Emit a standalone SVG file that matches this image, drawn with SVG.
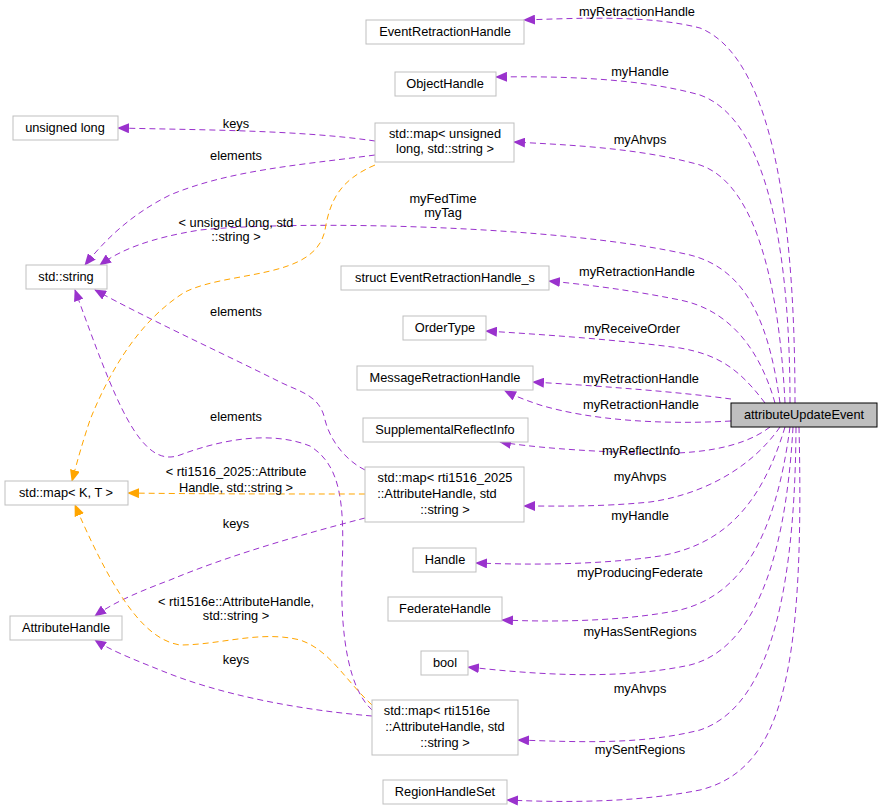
<svg xmlns="http://www.w3.org/2000/svg" width="883" height="812" viewBox="0 0 883 812">
<style>
.n rect{fill:#fff;stroke:#bfbfbf;stroke-width:1}
text{font-family:"Liberation Sans",Arial,sans-serif;font-size:12.8px;fill:#000;text-anchor:middle}
.p{fill:none;stroke:#9a32cd;stroke-dasharray:6,4}
.o{fill:none;stroke:#ffa500;stroke-dasharray:6,4}
</style>
<defs>
<marker id="mp" markerWidth="12" markerHeight="10" refX="11" refY="5" orient="auto" markerUnits="userSpaceOnUse"><path d="M0,0L12,5L0,10z" fill="#9a32cd"/></marker>
<marker id="mo" markerWidth="12" markerHeight="10" refX="11" refY="5" orient="auto" markerUnits="userSpaceOnUse"><path d="M0,0L12,5L0,10z" fill="#ffa500"/></marker>
</defs>
<rect width="883" height="812" fill="#fff"/>
<g id="edges">
<path class="p" marker-end="url(#mp)" d="M795,403C795,250 780,60 700,28C650,15 580,18 524,20"/>
<path class="p" marker-end="url(#mp)" d="M790,403C790,260 770,120 700,95C640,78 560,76 496,77"/>
<path class="p" marker-end="url(#mp)" d="M785,403C780,300 760,185 700,165C640,148 570,145 514,142"/>
<path class="p" marker-end="url(#mp)" d="M780,403C770,330 750,270 690,255C560,225 300,220 200,230C150,238 120,250 100,265"/>
<path class="p" marker-end="url(#mp)" d="M775,403C760,350 730,310 680,300C630,290 590,285 549,281"/>
<path class="p" marker-end="url(#mp)" d="M765,403C740,370 720,355 680,348C620,340 550,335 486,331"/>
<path class="p" marker-end="url(#mp)" d="M731,399C680,392 600,386 533,382"/>
<path class="p" marker-end="url(#mp)" d="M731,421C660,425 590,420 540,405C525,400 515,396 505,391"/>
<path class="p" marker-end="url(#mp)" d="M770,427C740,450 690,455 640,453C580,451 530,447 500,442"/>
<path class="p" marker-end="url(#mp)" d="M780,427C750,470 700,495 650,502C600,507 560,506 524,506"/>
<path class="p" marker-end="url(#mp)" d="M785,427C760,510 720,545 660,556C600,565 530,565 476,563"/>
<path class="p" marker-end="url(#mp)" d="M790,427C775,540 740,595 680,610C620,622 550,622 502,620"/>
<path class="p" marker-end="url(#mp)" d="M793,427C785,570 750,650 690,665C620,680 540,675 468,667"/>
<path class="p" marker-end="url(#mp)" d="M796,427C795,620 760,710 700,730C640,745 580,742 518,740"/>
<path class="p" marker-end="url(#mp)" d="M799,427C805,680 780,770 700,790C640,802 570,803 507,800"/>
<path class="p" marker-end="url(#mp)" d="M375,141C300,130 200,130 118,128"/>
<path class="p" marker-end="url(#mp)" d="M375,155C300,165 230,170 170,195C130,215 105,240 85,265"/>
<path class="o" marker-end="url(#mo)" d="M375,165C340,180 330,200 325,230C315,280 230,270 185,292C140,320 110,370 90,420C80,450 75,470 72,481"/>
<path class="p" marker-end="url(#mp)" d="M365,470C345,460 330,440 325,420C320,395 300,392 280,382C220,352 150,320 95,290"/>
<path class="p" marker-end="url(#mp)" d="M372,710C350,690 340,640 342,570C345,500 340,465 310,446C270,430 220,440 180,455C140,470 115,400 75,290"/>
<path class="o" marker-end="url(#mo)" d="M365,494C280,494 200,494 128,493"/>
<path class="p" marker-end="url(#mp)" d="M365,518C300,535 230,555 170,580C130,595 110,605 95,616"/>
<path class="o" marker-end="url(#mo)" d="M372,705C345,680 330,650 300,640C260,630 220,645 180,645C150,640 120,610 75,505"/>
<path class="p" marker-end="url(#mp)" d="M372,716C300,710 220,695 160,670C130,658 110,650 95,640"/>
</g>
<g id="labels">
<text x="637" y="16">myRetractionHandle</text>
<text x="640" y="76">myHandle</text>
<text x="640" y="144">myAhvps</text>
<text x="443" y="203">myFedTime</text>
<text x="443" y="217">myTag</text>
<text x="637" y="276">myRetractionHandle</text>
<text x="632" y="333">myReceiveOrder</text>
<text x="641" y="383">myRetractionHandle</text>
<text x="641" y="409">myRetractionHandle</text>
<text x="641" y="455">myReflectInfo</text>
<text x="640" y="481">myAhvps</text>
<text x="640" y="520">myHandle</text>
<text x="640" y="577">myProducingFederate</text>
<text x="640" y="636">myHasSentRegions</text>
<text x="640" y="693">myAhvps</text>
<text x="640" y="754">mySentRegions</text>
<text x="236" y="128">keys</text>
<text x="236" y="160">elements</text>
<text x="236" y="227">&lt; unsigned long, std</text>
<text x="236" y="241">::string &gt;</text>
<text x="236" y="316">elements</text>
<text x="236" y="421">elements</text>
<text x="236" y="476">&lt; rti1516_2025::Attribute</text>
<text x="236" y="492">Handle, std::string &gt;</text>
<text x="236" y="528">keys</text>
<text x="236" y="606">&lt; rti1516e::AttributeHandle,</text>
<text x="236" y="620">std::string &gt;</text>
<text x="236" y="664">keys</text>
</g>
<g id="n1" class="n"><rect x="366" y="20" width="158" height="24"/><text x="445" y="36">EventRetractionHandle</text></g>
<g id="n2" class="n"><rect x="395" y="72" width="101" height="24"/><text x="445" y="88">ObjectHandle</text></g>
<g id="n3" class="n"><rect x="375" y="123" width="139" height="39"/><text x="445" y="138">std::map&lt; unsigned</text><text x="445" y="153">long, std::string &gt;</text></g>
<g id="n4" class="n"><rect x="13" y="116" width="105" height="24"/><text x="65" y="132">unsigned long</text></g>
<g id="n5" class="n"><rect x="26" y="265" width="81" height="24"/><text x="66" y="281">std::string</text></g>
<g id="n6" class="n"><rect x="341" y="266" width="208" height="24"/><text x="445" y="282">struct EventRetractionHandle_s</text></g>
<g id="n7" class="n"><rect x="403" y="316" width="83" height="24"/><text x="445" y="332">OrderType</text></g>
<g id="n8" class="n"><rect x="357" y="366" width="176" height="24"/><text x="445" y="382">MessageRetractionHandle</text></g>
<g id="n9" class="n"><rect x="363" y="418" width="165" height="24"/><text x="445" y="434">SupplementalReflectInfo</text></g>
<g id="n10" class="n"><rect x="365" y="467" width="159" height="55"/><text x="445" y="482">std::map&lt; rti1516_2025</text><text x="437" y="498">::AttributeHandle, std</text><text x="445" y="514">::string &gt;</text></g>
<g id="n11" class="n"><rect x="5" y="481" width="123" height="24"/><text x="66" y="497">std::map&lt; K, T &gt;</text></g>
<g id="n12" class="n"><rect x="413" y="548" width="63" height="24"/><text x="445" y="564">Handle</text></g>
<g id="n13" class="n"><rect x="388" y="597" width="114" height="24"/><text x="445" y="613">FederateHandle</text></g>
<g id="n14" class="n"><rect x="421" y="651" width="47" height="24"/><text x="445" y="667">bool</text></g>
<g id="n15" class="n"><rect x="10" y="616" width="112" height="24"/><text x="66" y="632">AttributeHandle</text></g>
<g id="n16" class="n"><rect x="372" y="700" width="146" height="55"/><text x="437" y="715">std::map&lt; rti1516e</text><text x="445" y="731">::AttributeHandle, std</text><text x="445" y="747">::string &gt;</text></g>
<g id="n17" class="n"><rect x="383" y="780" width="124" height="24"/><text x="445" y="796">RegionHandleSet</text></g>
<g id="n18"><rect x="731" y="403" width="146" height="24" fill="#bfbfbf" stroke="#000"/><text x="804" y="419">attributeUpdateEvent</text></g>
</svg>
